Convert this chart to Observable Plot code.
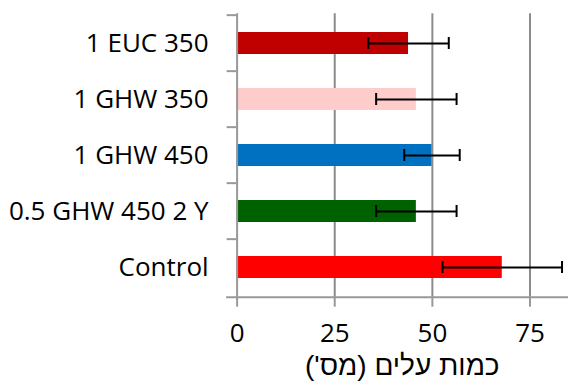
<!DOCTYPE html>
<html>
<head>
<meta charset="utf-8">
<script src="https://cdn.jsdelivr.net/npm/d3@7"></script>
<script src="https://cdn.jsdelivr.net/npm/@observablehq/plot@0.6"></script>
<style>
  html, body { margin: 0; padding: 0; background: #fff; }
  #chart svg { display: block; }
</style>
</head>
<body>
<div id="chart"></div>
<script>
const categories = ["1 EUC 350", "1 GHW 350", "1 GHW 450", "0.5 GHW 450 2 Y", "Control"];
const means = [43.9, 45.9, 49.9, 45.9, 67.9];
const errors = [10.3, 10.3, 7.1, 10.3, 15.3];
const colors = ["#C00000", "#FFCCCC", "#0070C0", "#006100", "#FF0000"];
const xTicks = [0, 25, 50, 75];
const xLabel = "כמות עלים (מס')";

const data = categories.map((c, i) => ({cat: c, mean: means[i], err: errors[i], color: colors[i]}));

const W = 568, H = 383;
const mT = 13.3, mB = 86.3, mL = 236.6, mR = 1;
const bw = (H - mT - mB) / categories.length;
const font = "'Open Sans', 'DejaVu Sans', sans-serif";

const chart = Plot.plot({
  width: W,
  height: H,
  marginTop: mT,
  marginBottom: mB,
  marginLeft: mL,
  marginRight: mR,
  style: {fontFamily: font, fontSize: "26px", color: "#000", background: "#fff"},
  x: {domain: [0, 84.6]},
  y: {domain: categories, padding: 0},
  color: {type: "identity"},
  marks: [
    Plot.ruleX(xTicks.slice(1), {stroke: "#8c8c8c", strokeWidth: 2}),
    Plot.barX(data, {x: "mean", y: "cat", fill: "color", insetTop: bw * 0.3, insetBottom: bw * 0.3}),
    Plot.ruleX([0], {stroke: "#999", strokeWidth: 2}),
    Plot.frame({anchor: "bottom", stroke: "#999", strokeWidth: 2, insetLeft: -10}),
    Plot.axisY({tickSize: 10, tickFormat: () => "", dy: -bw / 2, stroke: "#999", strokeWidth: 2, label: null}),
    Plot.axisY({tickSize: 0, tickPadding: 28.5, fontSize: 26, fill: "#000", label: null}),
    Plot.axisX({ticks: xTicks, tickSize: 10, tickPadding: 16, stroke: "#999", strokeWidth: 2, fontSize: 26, fill: "#000", label: null}),
    Plot.ruleY(data, {y: "cat", x1: d => d.mean - d.err, x2: d => d.mean + d.err, stroke: "#000", strokeWidth: 2}),
    Plot.tickX(data, {y: "cat", x: d => d.mean - d.err, stroke: "#000", strokeWidth: 2, insetTop: (bw - 12.7) / 2, insetBottom: (bw - 12.7) / 2}),
    Plot.tickX(data, {y: "cat", x: d => d.mean + d.err, stroke: "#000", strokeWidth: 2, insetTop: (bw - 12.7) / 2, insetBottom: (bw - 12.7) / 2}),
    Plot.text([xLabel], {frameAnchor: "bottom", dy: 69, text: d => d, fontSize: 28, fontFamily: "'Liberation Sans', 'DejaVu Sans', sans-serif", fill: "#000", lineAnchor: "middle"})
  ]
});
d3.select(chart).selectAll("text").filter(function() { return /[\u0590-\u05FF]/.test(this.textContent); }).attr("direction", "rtl");
document.getElementById("chart").appendChild(chart);
</script>
</body>
</html>
